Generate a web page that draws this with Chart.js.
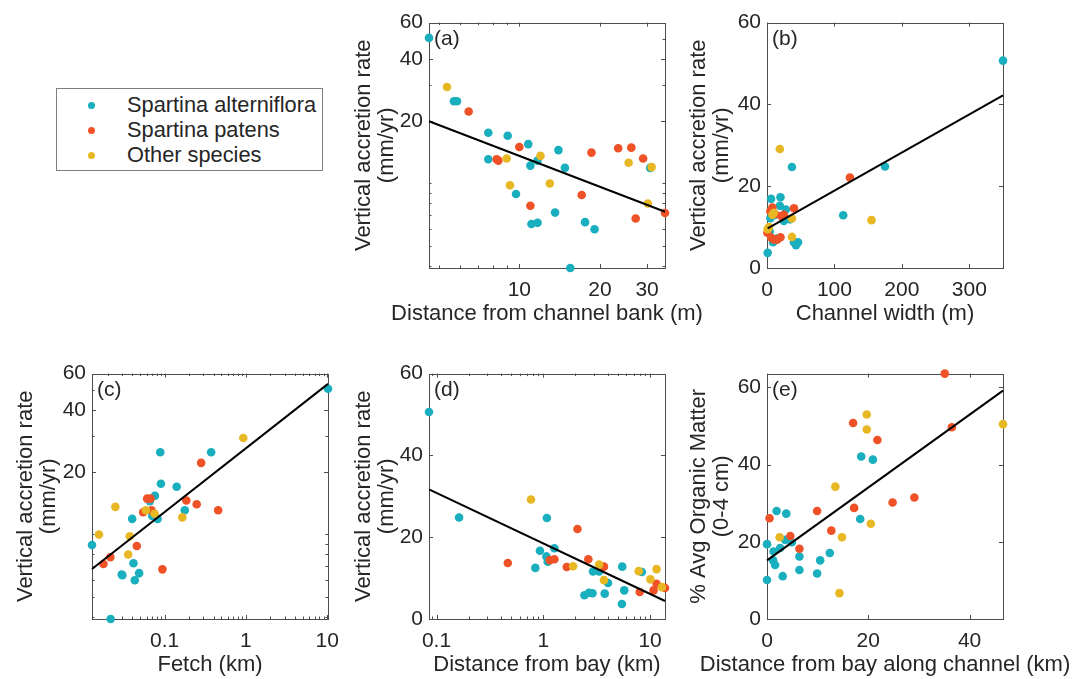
<!DOCTYPE html>
<html lang="en">
<head>
<meta charset="UTF-8">
<title>Vertical accretion vs. site variables</title>
<script src="https://cdn.jsdelivr.net/npm/chart.js"></script>
<style>
  * { box-sizing: border-box; margin: 0; padding: 0; }
  body {
    width: 1073px; height: 679px; background: #fff;
    position: relative; overflow: hidden;
    font-family: 'Liberation Sans', Arial, sans-serif; color: #262626;
  }
  canvas { position: absolute; }
  .legend {
    position: absolute; left: 56px; top: 88px; width: 267px; height: 83px;
    border: 1px solid #7f7f7f; background: #fff;
  }
  .legend .row { position: absolute; left: 70px; height: 24px; line-height: 24px; font-size: 21.8px; white-space: nowrap; }
  .legend .dot { position: absolute; left: -39px; top: 8.5px; width: 7px; height: 7px; border-radius: 50%; }
</style>
</head>
<body>

<div class="legend">
  <div class="row" style="top:4px"><span class="dot" style="background:#1aafbe"></span>Spartina alterniflora</div>
  <div class="row" style="top:29px"><span class="dot" style="background:#f05227"></span>Spartina patens</div>
  <div class="row" style="top:54px"><span class="dot" style="background:#e8b824"></span>Other species</div>
</div>

<script>
  // ---- data: [x, y] pairs per species ----
  // (a) distance from channel bank (m) vs accretion (mm/yr)
  const aAlt = [[4.6,50.6],[5.7,25.0],[5.85,25.0],[7.66,17.6],[9.05,17.0],[7.66,13.1],[10.8,15.5],[11.0,12.2],[11.7,12.9],[14.0,14.5],[14.8,11.9],[9.72,8.9],[13.6,7.23],[11.1,6.37],[11.7,6.45],[17.6,6.5],[19.1,6.0],[15.5,3.9],[30.8,11.9]];
  const aPat = [[6.47,22.3],[8.23,13.1],[8.35,12.9],[10.0,15.0],[11.0,7.8],[18.6,14.1],[17.1,8.8],[23.4,14.8],[26.2,14.9],[29.0,13.2],[27.2,6.77],[35.0,7.2]];
  const aOth = [[5.37,29.3],[8.97,13.2],[9.23,9.8],[12.0,13.6],[13.0,10.0],[25.6,12.6],[31.2,12.0],[30.2,8.0]];
  const aFit = [[4.6,20.0],[35.0,7.3]];

  // (b) channel width (m)
  const bAlt = [[350,50.7],[37,24.7],[175,24.8],[113,12.9],[6,16.9],[20,17.3],[19,15.2],[28,14.3],[25,11.5],[34,11.9],[5,12.2],[4,8.9],[9,6.3],[40,6.3],[46,6.3],[43,5.6],[1,3.7],[12,13.0],[15,7.2]];
  const bPat = [[123,22.1],[5,13.9],[8,14.8],[40,14.6],[21,12.7],[0.5,8.6],[6.5,7.4],[15,6.9],[20,7.5],[10,7.0],[12,13.2],[25,13.0]];
  const bOth = [[19,29.1],[10,13.5],[37,12.1],[155,11.7],[37,7.6],[1,9.5],[8,13.0],[3,10.0]];
  const bFit = [[1,9.7],[350,42.2]];

  // (c) fetch (km)
  const cAlt = [[10.2,50.7],[0.0884,25.0],[0.373,25.0],[0.090,17.6],[0.1406,17.0],[0.076,15.4],[0.0659,14.5],[0.177,13.1],[0.0705,12.3],[0.082,11.9],[0.0399,11.9],[0.0128,8.9],[0.0414,7.26],[0.0297,6.4],[0.0302,6.35],[0.0486,6.5],[0.043,6.0],[0.0217,3.9]];
  const cPat = [[0.281,22.2],[0.061,14.9],[0.067,14.9],[0.0545,12.8],[0.069,13.1],[0.185,14.6],[0.248,14.0],[0.455,13.1],[0.0455,8.8],[0.0215,7.76],[0.0177,7.2],[0.094,6.78]];
  const cOth = [[0.927,29.3],[0.0248,13.6],[0.0589,13.1],[0.0753,12.6],[0.165,12.1],[0.0156,10.0],[0.0373,9.8],[0.0356,8.0]];
  const cFit = [[0.0128,6.8],[10.2,53.5]];

  // (d) distance from bay (km)
  const dAlt = [[0.085,50.6],[0.1626,24.8],[1.08,24.7],[0.93,16.7],[1.27,17.3],[1.07,15.3],[1.1,14.0],[0.842,12.5],[2.92,11.6],[3.33,11.6],[5.49,12.8],[4.04,8.8],[5.73,7.0],[2.43,5.8],[2.68,6.4],[2.89,6.3],[3.76,6.2],[5.45,3.65],[8.36,11.5]];
  const dPat = [[2.09,22.0],[0.465,13.7],[1.15,14.4],[1.27,14.6],[1.66,12.7],[2.64,14.6],[3.7,12.8],[8.0,6.6],[10.8,7.0],[11.5,8.6],[13.8,7.6]];
  const dOth = [[0.767,29.2],[1.90,12.9],[3.33,13.3],[3.7,9.5],[7.83,11.7],[10.07,9.7],[11.5,12.2],[12.9,7.8]];
  const dFit = [[0.085,31.7],[13.8,4.4]];

  // (e) distance from bay along channel (km) vs organic matter (%)
  const eAlt = [[0,19.4],[0,10.1],[1.9,28.0],[3.8,27.3],[1.3,17.5],[1.2,15.2],[1.6,14.0],[2.6,18.4],[3.6,20.5],[4.9,19.9],[3.1,11.1],[6.4,16.2],[6.4,12.7],[9.9,11.8],[10.5,15.2],[12.4,17.1],[18.4,25.9],[18.6,42.1],[20.9,41.3]];
  const ePat = [[0.5,26.1],[4.6,21.5],[6.4,18.2],[9.9,28.0],[12.7,22.9],[17.2,28.8],[17.0,50.8],[21.8,46.4],[24.8,30.2],[29.1,31.5],[35.1,63.6],[36.5,49.7]];
  const eOth = [[2.5,21.2],[13.5,34.3],[14.8,21.2],[14.3,6.7],[19.7,53.0],[19.7,49.1],[20.5,24.7],[46.6,50.5]];
  const eFit = [[0,15.2],[46.6,59.2]];

  // ---- tick values ----
  const logAccTicks = [4,5,6,7,8,9,10,20,30,40,50,60];
  const logAccLabels = [20,40,60];
  const linAccTicks = [0,20,40,60];
  const aXTicks = [5,6,7,8,9,10,20,30];
  const aXLabels = [10,20,30];
  const bXTicks = [0,100,200,300];
  const cXTicks = [0.02,0.03,0.04,0.05,0.06,0.07,0.08,0.09,0.1,0.2,0.3,0.4,0.5,0.6,0.7,0.8,0.9,1,2,3,4,5,6,7,8,9,10];
  const cXLabels = [0.1,1,10];
  const dXTicks = [0.09,0.1,0.2,0.3,0.4,0.5,0.6,0.7,0.8,0.9,1,2,3,4,5,6,7,8,9,10];
  const dXLabels = [0.1,1,10];
  const eXTicks = [0,20,40];

  const TEAL = '#1aafbe', RED = '#f05227', YEL = '#e8b824';
  const TXT = '#262626';
  const FONT = "'Liberation Sans', Arial, sans-serif";
  // plot box size, top pad, right pad (room for long x titles), x axis band
  const PW = 236, PH = 252, PAD = 12, PADR = 70, XH = 57;

  Chart.defaults.font.family = FONT;
  Chart.defaults.color = TXT;

  const toPts = arr => arr.map(p => ({x: p[0], y: p[1]}));

  // box + inward ticks on all four sides, x title and panel letter
  const frame = {
    id: 'frame',
    beforeDatasetsDraw(chart) {
      const {ctx, chartArea: a, scales} = chart;
      ctx.save();
      ctx.strokeStyle = '#4d4d4d';
      ctx.lineWidth = 1;
      ctx.strokeRect(Math.round(a.left) + 0.5, Math.round(a.top) + 0.5,
                     Math.round(a.right - a.left), Math.round(a.bottom - a.top));
      ctx.beginPath();
      scales.x.ticks.forEach(t => {
        const px = Math.round(scales.x.getPixelForValue(t.value)) + 0.5;
        const len = t.label ? 4 : 2.5;
        ctx.moveTo(px, a.bottom); ctx.lineTo(px, a.bottom - len);
        ctx.moveTo(px, a.top); ctx.lineTo(px, a.top + len);
      });
      scales.y.ticks.forEach(t => {
        const py = Math.round(scales.y.getPixelForValue(t.value)) + 0.5;
        const len = t.label ? 4 : 2.5;
        ctx.moveTo(a.left, py); ctx.lineTo(a.left + len, py);
        ctx.moveTo(a.right, py); ctx.lineTo(a.right - len, py);
      });
      ctx.stroke();
      ctx.restore();
    },
    afterDraw(chart) {
      const {ctx, chartArea: a} = chart;
      const o = chart.options.plugins.frame;
      ctx.save();
      ctx.fillStyle = TXT;
      ctx.textBaseline = 'middle';
      ctx.font = '21px ' + FONT;
      ctx.fillText(o.letter, a.left + 5, a.top + 17);
      ctx.font = '22px ' + FONT;
      ctx.textAlign = 'center';
      ctx.fillText(o.xTitle, (a.left + a.right) / 2, a.bottom + 45.5);
      ctx.restore();
    }
  };

  function axis(type, min, max, ticks, labels, isX) {
    return {
      type: type, min: min, max: max,
      afterBuildTicks: s => { s.ticks = ticks.map(v => ({value: v})); },
      grid: {display: false, drawTicks: false},
      border: {display: false},
      ticks: {
        autoSkip: false, maxRotation: 0, minRotation: 0,
        padding: isX ? 10 : 6, color: TXT, font: {size: 21},
        callback: v => labels.includes(v) ? String(v) : ''
      }
    };
  }

  function makePanel(p) {
    const cv = document.createElement('canvas');
    const W = p.yw + PW + PADR, H = PAD + PH + XH;
    cv.width = W; cv.height = H;
    cv.style.left = (p.left - p.yw) + 'px';
    cv.style.top = (p.top - PAD) + 'px';
    cv.style.width = W + 'px'; cv.style.height = H + 'px';
    document.body.appendChild(cv);

    const xAxis = axis(p.xType, p.xMin, p.xMax, p.xTicks, p.xLabels, true);
    xAxis.afterFit = s => { s.height = XH; };
    const yAxis = axis(p.yType, p.yMin, p.yMax, p.yTicks, p.yLabels, false);
    yAxis.afterFit = s => { s.width = p.yw; };
    yAxis.title = {display: true, text: p.yTitle, color: TXT, padding: 0, font: {size: 22, lineHeight: 23 / 22}};

    new Chart(cv, {
      type: 'scatter',
      data: {
        datasets: [
          {type: 'line', data: toPts(p.fit), borderColor: '#000', borderWidth: 2,
           pointRadius: 0, fill: false, order: 0, clip: false},
          {data: toPts(p.oth), backgroundColor: YEL, borderWidth: 0, pointRadius: 4.3, order: 1, clip: false},
          {data: toPts(p.pat), backgroundColor: RED, borderWidth: 0, pointRadius: 4.3, order: 2, clip: false},
          {data: toPts(p.alt), backgroundColor: TEAL, borderWidth: 0, pointRadius: 4.3, order: 3, clip: false}
        ]
      },
      options: {
        responsive: false, animation: false, events: [],
        layout: {padding: {left: 0, top: PAD, right: PADR, bottom: 0}},
        plugins: {legend: {display: false}, tooltip: {enabled: false},
                  frame: {letter: p.letter, xTitle: p.xTitle}},
        scales: {x: xAxis, y: yAxis}
      },
      plugins: [frame]
    });
  }

  const accTitle = ['Vertical accretion rate', '(mm/yr)'];

  makePanel({letter: '(a)', left: 429, top: 16, yw: 77,
    xType: 'logarithmic', xMin: 4.6, xMax: 35, xTicks: aXTicks, xLabels: aXLabels, xTitle: 'Distance from channel bank (m)',
    yType: 'logarithmic', yMin: 3.9, yMax: 60, yTicks: logAccTicks, yLabels: logAccLabels, yTitle: accTitle,
    alt: aAlt, pat: aPat, oth: aOth, fit: aFit});

  makePanel({letter: '(b)', left: 767, top: 16, yw: 80,
    xType: 'linear', xMin: 0, xMax: 350, xTicks: bXTicks, xLabels: bXTicks, xTitle: 'Channel width (m)',
    yType: 'linear', yMin: 0, yMax: 60, yTicks: linAccTicks, yLabels: linAccTicks, yTitle: accTitle,
    alt: bAlt, pat: bPat, oth: bOth, fit: bFit});

  makePanel({letter: '(c)', left: 92, top: 367, yw: 78,
    xType: 'logarithmic', xMin: 0.0128, xMax: 10.2, xTicks: cXTicks, xLabels: cXLabels, xTitle: 'Fetch (km)',
    yType: 'logarithmic', yMin: 3.9, yMax: 60, yTicks: logAccTicks, yLabels: logAccLabels, yTitle: accTitle,
    alt: cAlt, pat: cPat, oth: cOth, fit: cFit});

  makePanel({letter: '(d)', left: 429, top: 367, yw: 77,
    xType: 'logarithmic', xMin: 0.085, xMax: 13.8, xTicks: dXTicks, xLabels: dXLabels, xTitle: 'Distance from bay (km)',
    yType: 'linear', yMin: 0, yMax: 60, yTicks: linAccTicks, yLabels: linAccTicks, yTitle: accTitle,
    alt: dAlt, pat: dPat, oth: dOth, fit: dFit});

  makePanel({letter: '(e)', left: 767, top: 367, yw: 80,
    xType: 'linear', xMin: 0, xMax: 46.6, xTicks: eXTicks, xLabels: eXTicks, xTitle: 'Distance from bay along channel (km)',
    yType: 'linear', yMin: 0, yMax: 63.6, yTicks: linAccTicks, yLabels: linAccTicks, yTitle: ['% Avg Organic Matter', '(0-4 cm)'],
    alt: eAlt, pat: ePat, oth: eOth, fit: eFit});
</script>

</body>
</html>
